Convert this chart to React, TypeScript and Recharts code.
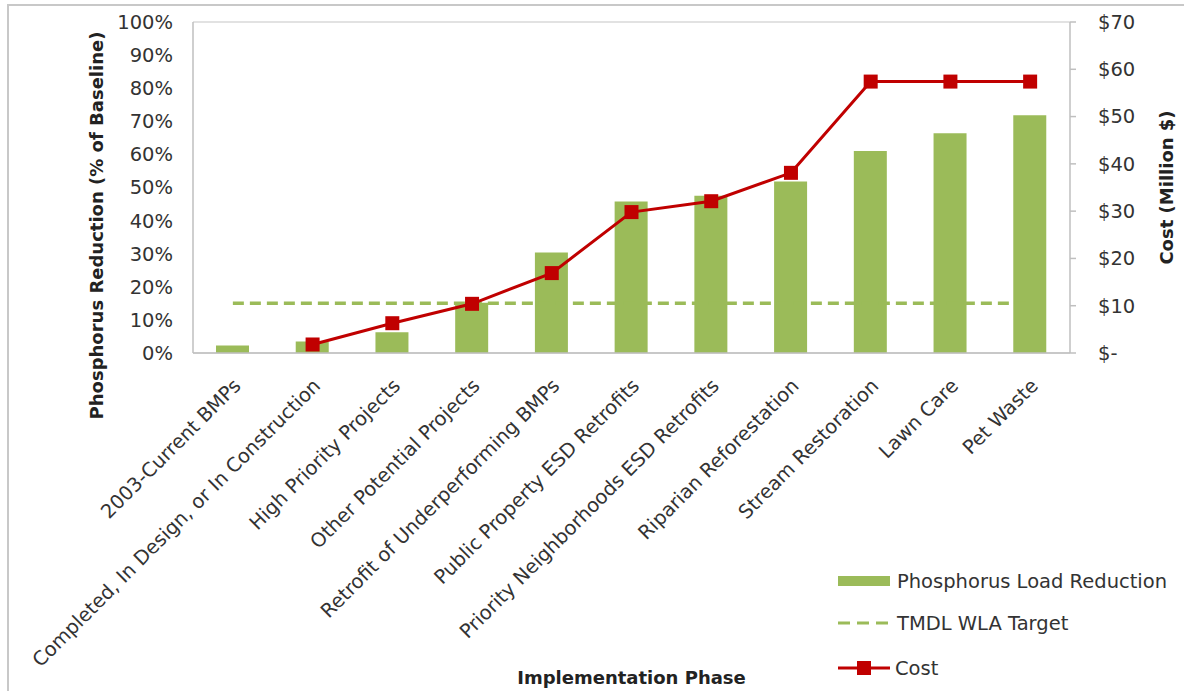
import React from 'react';
import {
  ComposedChart,
  Bar,
  Line,
  XAxis,
  YAxis,
  CartesianGrid,
} from 'recharts';

// Implementation phases along the x axis
const phases = [
  '2003-Current BMPs',
  'Completed, In Design, or In Construction',
  'High Priority Projects',
  'Other Potential Projects',
  'Retrofit of Underperforming BMPs',
  'Public Property ESD Retrofits',
  'Priority Neighborhoods ESD Retrofits',
  'Riparian Reforestation',
  'Stream Restoration',
  'Lawn Care',
  'Pet Waste',
];

// Cumulative phosphorus load reduction, % of baseline
const reduction = [2.3, 3.5, 6.3, 15.2, 30.4, 45.8, 47.5, 51.8, 61, 66.4, 71.8];

// TMDL wasteload allocation target, % of baseline
const tmdlTarget = [15, 15, 15, 15, 15, 15, 15, 15, 15, 15, 15];

// Cumulative cost, million $
const cost: (number | null)[] = [null, 1.8, 6.3, 10.4, 16.9, 29.8, 32.1, 38.1, 57.4, 57.4, 57.4];

const leftTicks = [0, 10, 20, 30, 40, 50, 60, 70, 80, 90, 100];
const rightTicks = [0, 10, 20, 30, 40, 50, 60, 70];

const data = phases.map((phase, i) => ({
  phase,
  reduction: reduction[i],
  target: tmdlTarget[i],
  cost: cost[i],
}));

const FONT = '"DejaVu Sans", "Open Sans", sans-serif';
const GREEN = '#9bbb59';
const RED = '#c00000';
const AXIS_GRAY = '#bfbfbf';
const TEXT = '#333333';

const CategoryTick = (props: any) => {
  const { x, y, payload } = props;
  return (
    <g transform={`translate(${x + 9},${y + 34})`}>
      <text
        x={0}
        y={0}
        textAnchor="end"
        transform="rotate(-45)"
        fontFamily={FONT}
        fontSize={19.5}
        fill={TEXT}
      >
        {payload.value}
      </text>
    </g>
  );
};

const SquareDot = (props: any) => {
  const { cx, cy, index } = props;
  if (cx == null || cy == null || cost[index] == null) return <g key={`d${index}`} />;
  return <rect key={`d${index}`} x={cx - 7} y={cy - 7} width={14} height={14} fill={RED} />;
};

const Legend = () => (
  <div
    style={{
      position: 'absolute',
      left: 836,
      top: 562,
      fontFamily: FONT,
      fontSize: 19.5,
      color: TEXT,
    }}
  >
    <div style={{ display: 'flex', alignItems: 'center', height: 38 }}>
      <svg width={56} height={20}>
        <rect x={2} y={5} width={52} height={10} fill={GREEN} />
      </svg>
      <span style={{ marginLeft: 5 }}>Phosphorus Load Reduction</span>
    </div>
    <div style={{ display: 'flex', alignItems: 'center', height: 46 }}>
      <svg width={56} height={20}>
        <line x1={2} y1={10} x2={54} y2={10} stroke={GREEN} strokeWidth={3} strokeDasharray="12 7" />
      </svg>
      <span style={{ marginLeft: 5 }}>TMDL WLA Target</span>
    </div>
    <div style={{ display: 'flex', alignItems: 'center', height: 44 }}>
      <svg width={56} height={20}>
        <line x1={2} y1={10} x2={54} y2={10} stroke={RED} strokeWidth={3} />
        <rect x={21} y={3} width={14} height={14} fill={RED} />
      </svg>
      <span style={{ marginLeft: 3 }}>Cost</span>
    </div>
  </div>
);

export default function App() {
  return (
    <div
      style={{
        position: 'absolute',
        left: 0,
        top: 0,
        width: 1184,
        height: 691,
        overflow: 'hidden',
        background: '#ffffff',
      }}
    >
      <div
        style={{
          position: 'absolute',
          left: 7,
          top: 4,
          width: 1200,
          height: 700,
          borderTop: '2px solid #c8c8c8',
          borderLeft: '2px solid #c8c8c8',
        }}
      />
      <div style={{ position: 'absolute', left: 0, top: 0 }}>
        <ComposedChart
          width={1184}
          height={691}
          data={data}
          margin={{ top: 22, right: 0, bottom: 0, left: 0 }}
          barSize={33}
        >
          <CartesianGrid vertical={false} stroke="#d9d9d9" strokeWidth={1.5} />
          <XAxis
            dataKey="phase"
            height={338}
            interval={0}
            tickLine={false}
            tickSize={0}
            tickMargin={0}
            stroke={AXIS_GRAY}
            strokeWidth={1.5}
            tick={<CategoryTick />}
            label={{
              value: 'Implementation Phase',
              position: 'insideBottom',
              offset: 7,
              fontFamily: FONT,
              fontSize: 18,
              fontWeight: 700,
              fill: '#222222',
            }}
          />
          <YAxis
            yAxisId="left"
            width={193}
            domain={[0, 100]}
            ticks={leftTicks}
            tickFormatter={(v: number) => `${v}%`}
            tickLine={false}
            tickSize={0}
            tickMargin={20}
            stroke={AXIS_GRAY}
            strokeWidth={1.5}
            tick={{ fontFamily: FONT, fontSize: 19.5, fill: TEXT }}
            label={{
              value: 'Phosphorus  Reduction (% of Baseline)',
              angle: -90,
              position: 'center',
              dx: 0,
              dy: 38,
              fontFamily: FONT,
              fontSize: 18,
              fontWeight: 700,
              fill: '#222222',
            }}
          />
          <YAxis
            yAxisId="right"
            orientation="right"
            width={114}
            domain={[0, 70]}
            ticks={rightTicks}
            tickFormatter={(v: number) => (v === 0 ? '$-' : `$${v}`)}
            tickSize={6}
            tickMargin={22}
            stroke={AXIS_GRAY}
            strokeWidth={1.5}
            tick={{ fontFamily: FONT, fontSize: 19.5, fill: TEXT, textAnchor: 'start' }}
            label={{
              value: 'Cost (Million $)',
              angle: -90,
              position: 'center',
              dx: 40,
              dy: 0,
              fontFamily: FONT,
              fontSize: 18,
              fontWeight: 700,
              fill: '#222222',
            }}
          />
          <Line
            yAxisId="left"
            dataKey="target"
            stroke={GREEN}
            strokeWidth={3.5}
            strokeDasharray="11 6"
            dot={false}
            activeDot={false}
            isAnimationActive={false}
          />
          <Bar yAxisId="left" dataKey="reduction" fill={GREEN} isAnimationActive={false} />
          <Line
            yAxisId="right"
            dataKey="cost"
            stroke={RED}
            strokeWidth={3}
            dot={<SquareDot />}
            activeDot={false}
            connectNulls={false}
            isAnimationActive={false}
          />
        </ComposedChart>
      </div>
      <Legend />
    </div>
  );
}
